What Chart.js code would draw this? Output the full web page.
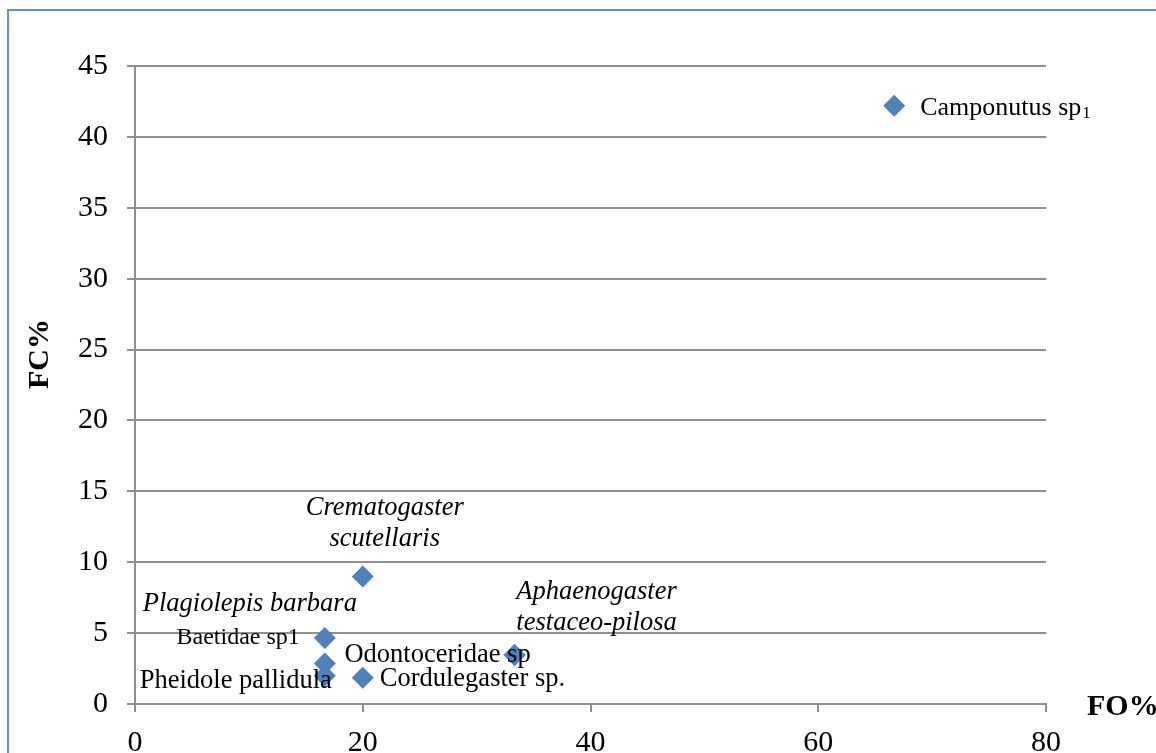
<!DOCTYPE html>
<html><head><meta charset="utf-8">
<script src="https://cdn.jsdelivr.net/npm/chart.js@4"></script>
<style>
html,body{margin:0;padding:0;background:#fff;overflow:hidden;width:1156px;height:753px}
#frame{position:absolute;left:7px;top:9px;width:1220px;height:820px;border:2px solid #6490d0;box-sizing:border-box}
#wrap{position:absolute;left:0;top:0;width:1156px;height:753px}
</style></head><body>
<div id="frame"></div>
<div id="wrap"><canvas id="c" width="1156" height="753"></canvas></div>
<script>
// ---- data ----
const species = [
  "Camponutus sp1",
  "Crematogaster\nscutellaris",
  "Baetidae sp1",
  "Plagiolepis barbara",
  "Odontoceridae sp",
  "Aphaenogaster\ntestaceo-pilosa",
  "Pheidole pallidula",
  "Cordulegaster sp."
];
const foValues = [66.67, 20.0, 16.67, 16.67, 33.33, 33.33, 16.67, 20.0];
const fcValues = [42.2, 9.0, 4.65, 2.85, 3.45, 3.45, 2.0, 1.85];
const xTickValues = [0, 20, 40, 60, 80];
const yTickValues = [0, 5, 10, 15, 20, 25, 30, 35, 40, 45];
const xTitle = "FO%";
const yTitle = "FC%";

// ---- label layout (styles/offsets, pixels) ----
const labelLayout = [
  {dx: 26, dy: 2, align: 'left', size: 26, italic: false, sub: 1},
  {dx: 22, dy: -68, align: 'center', size: 26.5, italic: true, lh: 31},
  {dx: -25, dy: 0, align: 'right', size: 24, italic: false},
  {dx: -75, dy: -60, align: 'center', size: 26.5, italic: true},
  {dx: -77, dy: 0, align: 'center', size: 26.5, italic: false},
  {dx: 82, dy: -63, align: 'center', size: 26.5, italic: true, lh: 31},
  {dx: 7, dy: 5, align: 'right', size: 26.5, italic: false},
  {dx: 17, dy: 1, align: 'left', size: 26.5, italic: false}
];

const FONT = '"Liberation Serif", "Times New Roman", serif';

const labelPlugin = {
  id: 'pointLabels',
  afterDatasetsDraw(chart) {
    const ctx = chart.ctx;
    const meta = chart.getDatasetMeta(0);
    ctx.save();
    ctx.fillStyle = '#000';
    ctx.textBaseline = 'middle';
    meta.data.forEach((pt, i) => {
      const L = labelLayout[i];
      const lines = species[i].split('\n');
      const font = (L.italic ? 'italic ' : '') + L.size + 'px ' + FONT;
      ctx.font = font;
      ctx.textAlign = L.align;
      lines.forEach((line, k) => {
        const x = pt.x + L.dx;
        const y = pt.y + L.dy + k * (L.lh || 0);
        if (L.sub) {
          const main = line.slice(0, line.length - L.sub);
          const subTxt = line.slice(line.length - L.sub);
          ctx.textAlign = 'left';
          ctx.font = font;
          ctx.fillText(main, x, y);
          const w = ctx.measureText(main).width;
          ctx.font = Math.round(L.size * 0.65) + 'px ' + FONT;
          ctx.fillText(subTxt, x + w + 1, y + L.size * 0.22);
        } else {
          ctx.fillText(line, x, y);
        }
      });
    });
    // axis titles
    ctx.font = 'bold 30px ' + FONT;
    ctx.textAlign = 'left';
    ctx.fillText(xTitle, chart.chartArea.right + 41, chart.chartArea.bottom + 3);
    ctx.translate(40, 354);
    ctx.rotate(-Math.PI / 2);
    ctx.textAlign = 'center';
    ctx.fillText(yTitle, 0, 0);
    ctx.restore();
  }
};

const gridColor = '#8f8f8f';

new Chart(document.getElementById('c'), {
  type: 'scatter',
  data: {
    datasets: [{
      data: foValues.map((x, i) => ({x: x, y: fcValues[i]})),
      pointStyle: 'rectRot',
      pointRadius: 11,
      pointHoverRadius: 11,
      backgroundColor: '#4F81BD',
      borderColor: '#4F81BD',
      borderWidth: 0
    }]
  },
  options: {
    responsive: false,
    animation: false,
    events: [],
    layout: {padding: {top: 66, right: 110, left: 0, bottom: 0}},
    plugins: {legend: {display: false}, tooltip: {enabled: false}},
    scales: {
      x: {
        type: 'linear',
        min: 0, max: 80,
        afterBuildTicks(scale) { scale.ticks = xTickValues.map(v => ({value: v})); },
        afterFit(scale) { scale.height = 49; },
        grid: {drawOnChartArea: false, drawTicks: true, tickLength: 8, color: gridColor, lineWidth: 2},
        border: {display: true, color: gridColor, width: 2},
        ticks: {padding: 13, color: '#000', font: {family: FONT, size: 30}, maxRotation: 0, autoSkip: false}
      },
      y: {
        type: 'linear',
        min: 0, max: 45,
        afterBuildTicks(scale) { scale.ticks = yTickValues.map(v => ({value: v})); },
        afterFit(scale) { scale.width = 135; },
        grid: {drawOnChartArea: true, drawTicks: true, tickLength: 8, color: gridColor, lineWidth: 2},
        border: {display: true, color: gridColor, width: 2},
        ticks: {padding: 19, color: '#000', font: {family: FONT, size: 30}, autoSkip: false}
      }
    }
  },
  plugins: [labelPlugin]
});
</script>
</body></html>
